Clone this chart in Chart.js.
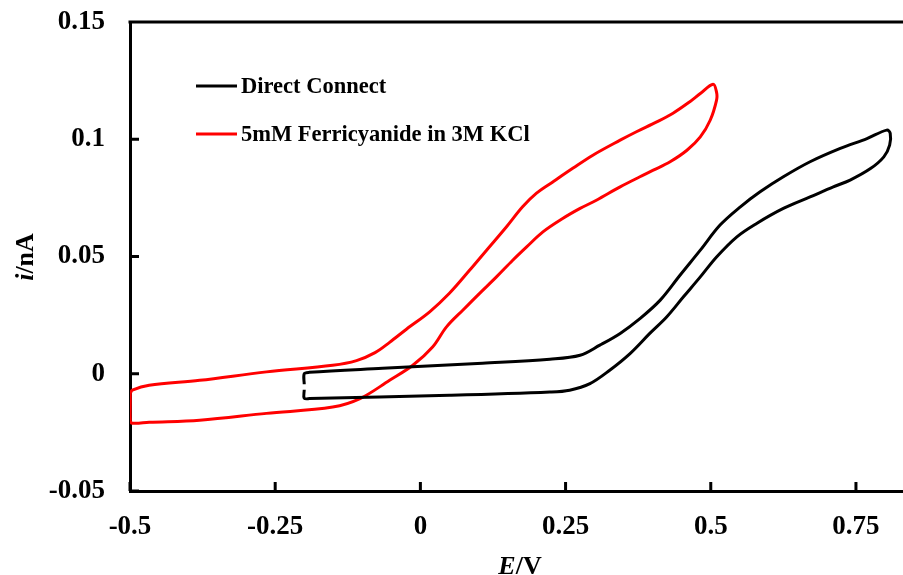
<!DOCTYPE html>
<html>
<head>
<meta charset="utf-8">
<script src="https://cdn.jsdelivr.net/npm/chart.js@4.4.1/dist/chart.umd.min.js"></script>
<style>
  body { margin: 0; background: #fff; }
  #wrap { width: 903px; height: 575px; }
</style>
</head>
<body>
<div id="wrap"><canvas id="myChart"></canvas></div>
<script>
const xTicks = [-0.5, -0.25, 0, 0.25, 0.5, 0.75];
const yTicks = [-0.05, 0, 0.05, 0.1, 0.15];

// Direct Connect loop (E in V, i in nA)
const directE = [-0.2, -0.2, -0.191, -0.065, 0.107, 0.223, 0.275, 0.309, 0.344, 0.378, 0.413, 0.447, 0.482, 0.516, 0.551, 0.585, 0.625, 0.671, 0.723, 0.769, 0.803, 0.809,
  0.808, 0.798, 0.775, 0.740, 0.711, 0.671, 0.625, 0.579, 0.545, 0.510, 0.482, 0.453, 0.424, 0.395, 0.361, 0.326, 0.292, 0.257, 0.223, 0.050, -0.191, -0.2, -0.2];
const directI = [-0.0045, 0.0000, 0.0006, 0.0023, 0.0045, 0.0062, 0.0079, 0.0122, 0.0172, 0.0235, 0.0314, 0.0420, 0.0527, 0.0634, 0.0712, 0.0776, 0.0840, 0.0904, 0.0961, 0.1003, 0.1039, 0.1025,
  0.0975, 0.0925, 0.0875, 0.0826, 0.0797, 0.0754, 0.0705, 0.0641, 0.0584, 0.0498, 0.0413, 0.0328, 0.0242, 0.0172, 0.0086, 0.0015, -0.0042, -0.0070, -0.0078, -0.0092, -0.0106, -0.0104, -0.0068];

// 5mM Ferricyanide in 3M KCl loop
const ferriE = [-0.4995, -0.496, -0.467, -0.380, -0.265, -0.151, -0.110, -0.078, -0.053, -0.024, 0.016, 0.050, 0.085, 0.114, 0.148, 0.176, 0.200, 0.228, 0.263, 0.297, 0.344, 0.372, 0.407, 0.435, 0.464, 0.482, 0.504, 0.510,
  0.510, 0.499, 0.482, 0.459, 0.430, 0.401, 0.378, 0.344, 0.303, 0.275, 0.245, 0.211, 0.183, 0.159, 0.131, 0.102, 0.073, 0.045, 0.021, -0.013, -0.053, -0.104, -0.151, -0.265, -0.380, -0.467, -0.496, -0.4995, -0.4995, -0.4995];
const ferriI = [-0.0083, -0.0070, -0.0049, -0.0028, 0.0008, 0.0036, 0.0056, 0.0090, 0.0134, 0.0190, 0.0264, 0.0343, 0.0442, 0.0527, 0.0626, 0.0712, 0.0770, 0.0818, 0.0877, 0.0932, 0.0996, 0.1032, 0.1074, 0.1111, 0.1160, 0.1195, 0.1235, 0.1200,
  0.1167, 0.1081, 0.1010, 0.0953, 0.0904, 0.0868, 0.0840, 0.0797, 0.0740, 0.0705, 0.0662, 0.0605, 0.0541, 0.0484, 0.0413, 0.0343, 0.0271, 0.0200, 0.0114, 0.0036, -0.0028, -0.0106, -0.0142, -0.0169, -0.0198, -0.0207, -0.0211, -0.0198, -0.0113, -0.0083];

const toPoints = (xs, ys) => xs.map((v, i) => ({ x: v, y: ys[i] }));
const fmt = v => String(+(+v).toFixed(2));
const serif = "'Liberation Serif', 'Times New Roman', serif";

const frameAndText = {
  id: "frameAndText",
  afterDraw(chart) {
    const { ctx, chartArea: a, scales: { x, y } } = chart;
    ctx.save();
    ctx.strokeStyle = "#000";
    ctx.lineWidth = 3;
    ctx.beginPath();
    ctx.moveTo(a.left - 1.5, a.top);
    ctx.lineTo(a.right, a.top);
    xTicks.forEach(v => {
      const px = x.getPixelForValue(v);
      ctx.moveTo(px, a.bottom);
      ctx.lineTo(px, a.bottom - 9);
    });
    yTicks.forEach(v => {
      const py = y.getPixelForValue(v);
      ctx.moveTo(a.left, py);
      ctx.lineTo(a.left + 9, py);
    });
    ctx.stroke();

    // legend
    ctx.font = "bold 22.5px " + serif;
    ctx.textBaseline = "middle";
    ctx.fillStyle = "#000";
    chart.data.datasets.forEach((ds, i) => {
      const ly = 86 + i * 48;
      ctx.strokeStyle = ds.borderColor;
      ctx.lineWidth = 3;
      ctx.beginPath();
      ctx.moveTo(196, ly);
      ctx.lineTo(237, ly);
      ctx.stroke();
      ctx.fillText(ds.label, 241, ly + 1);
    });

    // axis titles
    const drawTitle = (parts, cx, cy, rot) => {
      ctx.save();
      ctx.translate(cx, cy);
      if (rot) ctx.rotate(-Math.PI / 2);
      ctx.textBaseline = "alphabetic";
      ctx.textAlign = "left";
      let w = 0;
      parts.forEach(p => { ctx.font = p[1] + " 26px " + serif; w += ctx.measureText(p[0]).width; });
      let pos = -w / 2;
      parts.forEach(p => {
        ctx.font = p[1] + " 26px " + serif;
        ctx.fillText(p[0], pos, 0);
        pos += ctx.measureText(p[0]).width;
      });
      ctx.restore();
    };
    drawTitle([["E", "italic bold"], ["/V", "bold"]], 520, 574, false);
    drawTitle([["i", "italic bold"], ["/nA", "bold"]], 33, 257, true);
    ctx.restore();
  }
};

const myChart = new Chart(document.getElementById("myChart").getContext("2d"), {
  type: "scatter",
  data: {
    datasets: [
      {
        label: "Direct Connect",
        data: toPoints(directE, directI),
        borderColor: "#000000",
        borderWidth: 3,
        showLine: true,
        pointRadius: 0,
        tension: 0.35,
      },
      {
        label: "5mM Ferricyanide in 3M KCl",
        data: toPoints(ferriE, ferriI),
        borderColor: "#ff0000",
        borderWidth: 3,
        showLine: true,
        pointRadius: 0,
        tension: 0.35,
      },
    ],
  },
  options: {
    responsive: true,
    maintainAspectRatio: false,
    animation: false,
    layout: { autoPadding: false, padding: { top: 22, right: 0, left: 0, bottom: 0 } },
    plugins: { legend: { display: false }, tooltip: { enabled: false } },
    scales: {
      x: {
        type: "linear",
        min: -0.5,
        max: 0.831,
        afterFit: s => { s.height = 84; s.paddingLeft = 0; s.paddingRight = 0; },
        grid: { display: false, drawTicks: false },
        border: { display: true, color: "#000", width: 3 },
        ticks: {
          stepSize: 0.25,
          includeBounds: false,
          padding: 20,
          color: "#000",
          maxRotation: 0,
          font: { family: serif, weight: "bold", size: 27 },
          callback: fmt,
        },
      },
      y: {
        min: -0.05,
        max: 0.15,
        afterFit: s => { s.width = 130; s.paddingTop = 0; s.paddingBottom = 0; },
        grid: { display: false, drawTicks: false },
        border: { display: true, color: "#000", width: 3 },
        ticks: {
          stepSize: 0.05,
          padding: 25,
          color: "#000",
          font: { family: serif, weight: "bold", size: 27 },
          callback: fmt,
        },
      },
    },
  },
  plugins: [frameAndText],
});
</script>
</body>
</html>
